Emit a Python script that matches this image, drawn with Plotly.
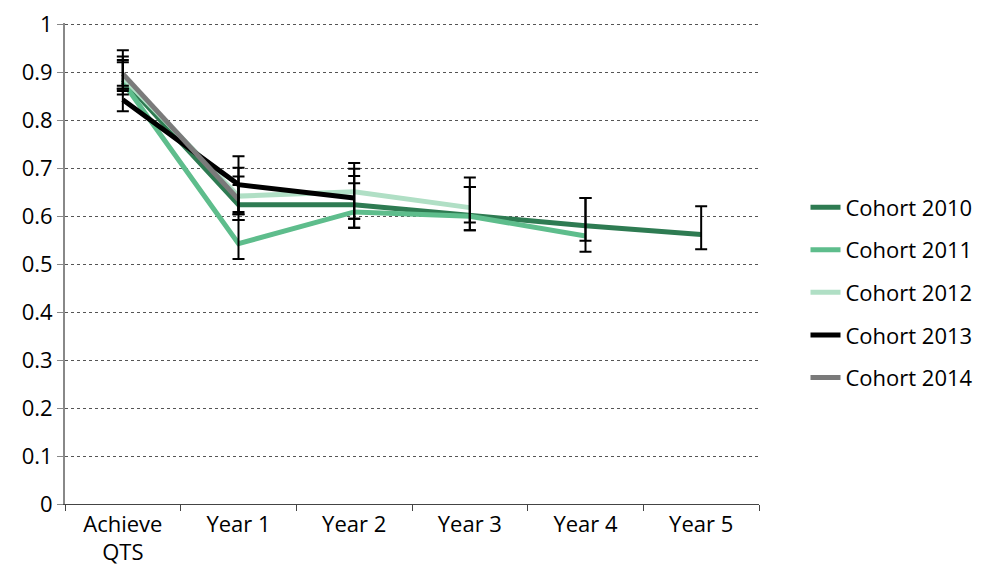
import plotly.graph_objects as go

# x categories
STAGES = ["Achieve<br>QTS", "Year 1", "Year 2", "Year 3", "Year 4", "Year 5"]

# values, upper-error, lower-error per cohort -- None where the cohort has no data yet
C2010 = [0.885, 0.624, 0.624, 0.603, 0.580, 0.562]
C2010_UP = [0.036, 0.059, 0.060, 0.058, 0.058, 0.059]
C2010_DN = [0.024, 0.032, 0.048, 0.032, 0.031, 0.031]

C2011 = [0.880, 0.543, 0.609, 0.600, 0.559, None]
C2011_UP = [0.046, 0.049, 0.090, 0.061, 0.079, None]
C2011_DN = [0.026, 0.032, 0.033, 0.013, 0.033, None]

C2012 = [0.890, 0.642, 0.651, 0.618, None, None]
C2012_UP = [0.043, 0.059, 0.060, 0.063, None, None]
C2012_DN = [0.024, 0.038, 0.056, 0.047, None, None]

C2013 = [0.843, 0.666, 0.638, None, None, None]
C2013_UP = [0.023, 0.059, 0.031, None, None, None]
C2013_DN = [0.024, 0.057, 0.043, None, None, None]

C2014 = [0.897, 0.635, None, None, None, None]
C2014_UP = [0.049, 0.030, None, None, None, None]
C2014_DN = [0.025, 0.031, None, None, None, None]

SERIES = [
    ("Cohort 2010", C2010, C2010_UP, C2010_DN, "#2E7B52"),
    ("Cohort 2011", C2011, C2011_UP, C2011_DN, "#5EBD8C"),
    ("Cohort 2012", C2012, C2012_UP, C2012_DN, "#B0DFC5"),
    ("Cohort 2013", C2013, C2013_UP, C2013_DN, "#000000"),
    ("Cohort 2014", C2014, C2014_UP, C2014_DN, "#7A7A7A"),
]

FONT = "Open Sans, DejaVu Sans, sans-serif"

fig = go.Figure()
for name, ys, up, dn, color in SERIES:
    xs = [s for s, v in zip(STAGES, ys) if v is not None]
    vs = [v for v in ys if v is not None]
    fig.add_trace(go.Scatter(x=xs, y=vs, name=name, mode="lines",
                             line=dict(color=color, width=5),
                             legendgroup=name))

# error bars drawn after all lines so they sit on top
for name, ys, up, dn, color in SERIES:
    xs = [s for s, v in zip(STAGES, ys) if v is not None]
    vs = [v for v in ys if v is not None]
    fig.add_trace(go.Scatter(x=xs, y=vs, mode="markers", showlegend=False,
                             marker=dict(size=1, color="rgba(0,0,0,0)"),
                             error_y=dict(type="data", symmetric=False,
                                          array=[u for u in up if u is not None],
                                          arrayminus=[d for d in dn if d is not None],
                                          color="black", thickness=2, width=6)))

# page body adds an 8px margin, so the figure is sized/offset to compensate
fig.update_layout(
    width=982, height=561, plot_bgcolor="white", paper_bgcolor="white",
    margin=dict(l=57, r=225, t=15, b=65),
    font=dict(family=FONT, size=22, color="black"),
    xaxis=dict(type="category", categoryorder="array", categoryarray=STAGES,
               range=[-0.5, 5.5], automargin=False,
               showline=True, linecolor="#444", linewidth=1.3,
               ticks="outside", tickson="boundaries", ticklen=6, tickcolor="#444",
               showgrid=False, tickfont=dict(size=22)),
    yaxis=dict(range=[0, 1.003], dtick=0.1, tickformat="~g", automargin=False,
               ticklabeloverflow="allow",
               showline=True, linecolor="#888", linewidth=2,
               ticks="outside", ticklen=6, tickcolor="#888",
               gridcolor="#555", griddash="dot", gridwidth=1,
               zeroline=False, tickfont=dict(size=22)),
    legend=dict(x=1.067, xanchor="left", y=0.44, yanchor="middle",
                traceorder="grouped", tracegroupgap=11,
                font=dict(size=22), bgcolor="rgba(0,0,0,0)"),
    showlegend=True,
)

fig.write_html("out.html")
